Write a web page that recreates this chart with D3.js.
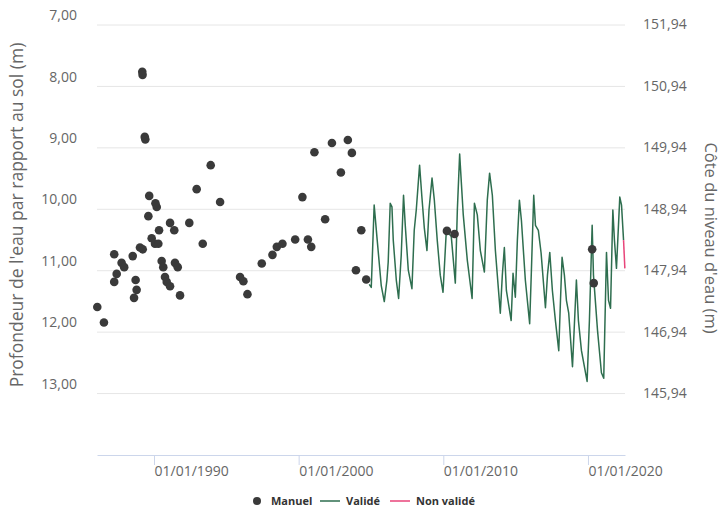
<!DOCTYPE html>
<html>
<head>
<meta charset="utf-8">
<script src="https://cdn.jsdelivr.net/npm/d3@7"></script>
<style>
body { margin: 0; background: #fff; }
svg { font-family: "Open Sans", sans-serif; }
</style>
</head>
<body>
<script>
// manual readings (decimal year, depth in m)
var manualYears = [1986.08, 1986.54, 1987.25, 1987.25, 1987.42, 1987.76, 1987.94, 1988.53, 1988.62, 1988.73,
  1988.80, 1989.03, 1989.22, 1989.19, 1989.21, 1989.36, 1989.40, 1989.67, 1989.61, 1989.84,
  1990.07, 1990.30, 1990.19, 1990.10, 1990.35, 1990.53, 1990.64, 1990.76, 1990.88, 1991.11,
  1991.11, 1991.40, 1991.45, 1991.64, 1991.80, 1992.44, 1992.95, 1993.37, 1993.92, 1994.57,
  1995.95, 1996.18, 1996.46, 1997.45, 1998.19, 1998.49, 1998.88, 1999.76, 2000.64, 2000.87,
  2000.26, 2001.09, 2001.83, 2002.30, 2002.92, 2003.40, 2003.68, 2003.96, 2004.33, 2004.67,
  2010.25, 2010.78, 2020.29, 2020.40];
var manualDepth = [11.60, 11.85, 10.74, 11.19, 11.06, 10.88, 10.95, 10.77, 11.45, 11.16,
  11.32, 10.63, 10.66, 7.77, 7.82, 8.83, 8.87, 9.79, 10.12, 10.48,
  10.57, 10.57, 9.97, 9.91, 10.35, 10.85, 10.95, 11.11, 11.19, 11.26,
  10.23, 10.35, 10.88, 10.95, 11.41, 10.23, 9.68, 10.57, 9.29, 9.89,
  11.11, 11.18, 11.39, 10.89, 10.75, 10.62, 10.57, 10.50, 10.50, 10.62,
  9.81, 9.08, 10.17, 8.93, 9.41, 8.88, 9.09, 11.00, 10.35, 11.15,
  10.36, 10.41, 10.66, 11.21];

// validated continuous record
var validYears = [2004.88, 2005.02, 2005.22, 2005.43, 2005.71, 2005.92, 2006.10, 2006.19, 2006.33, 2006.45,
  2006.54, 2006.75, 2006.91, 2007.09, 2007.25, 2007.37, 2007.58, 2007.83, 2007.99, 2008.13,
  2008.36, 2008.51, 2008.69, 2008.87, 2009.01, 2009.22, 2009.38, 2009.58, 2009.79, 2009.98,
  2010.21, 2010.55, 2010.83, 2010.97, 2011.13, 2011.38, 2011.66, 2011.99, 2012.15, 2012.35,
  2012.56, 2012.84, 2013.04, 2013.20, 2013.39, 2013.60, 2013.94, 2014.08, 2014.22, 2014.36,
  2014.69, 2014.82, 2014.98, 2015.12, 2015.26, 2015.40, 2015.67, 2015.97, 2016.09, 2016.25,
  2016.37, 2016.57, 2016.76, 2017.06, 2017.20, 2017.36, 2017.54, 2017.75, 2017.98, 2018.10,
  2018.21, 2018.37, 2018.51, 2018.67, 2018.93, 2019.20, 2019.34, 2019.55, 2019.94, 2020.10,
  2020.29, 2020.38, 2020.66, 2020.93, 2021.09, 2021.28, 2021.42, 2021.56, 2021.72, 2021.83,
  2021.97, 2022.20, 2022.32, 2022.46];
var validDepth = [11.23, 11.28, 9.94, 10.51, 11.25, 11.51, 11.16, 10.87, 9.91, 9.97,
  10.51, 11.16, 11.46, 10.76, 9.78, 10.27, 11.00, 11.30, 10.35, 10.02,
  9.29, 9.78, 10.32, 10.68, 10.02, 9.50, 9.86, 10.51, 11.08, 11.36,
  10.35, 10.45, 11.21, 10.02, 9.11, 10.10, 10.84, 11.46, 9.91, 10.10,
  10.68, 11.03, 9.86, 9.42, 9.78, 10.68, 11.70, 11.08, 10.63, 11.33,
  11.82, 11.05, 11.44, 10.51, 9.86, 10.19, 11.16, 11.87, 11.00, 9.78,
  10.27, 10.35, 10.72, 11.61, 11.08, 10.71, 11.33, 11.82, 12.31, 11.49,
  10.79, 11.08, 11.49, 11.70, 12.57, 11.16, 11.82, 12.31, 12.81, 11.82,
  10.27, 11.08, 11.98, 12.67, 12.76, 10.71, 11.49, 11.62, 10.02, 10.51,
  10.97, 9.81, 9.94, 10.51];

// not yet validated tail
var pendingYears = [2022.46, 2022.55];
var pendingDepth = [10.51, 10.97];

var depthTicks = [7, 8, 9, 10, 11, 12, 13];
var levelTicks = ["151,94", "150,94", "149,94", "148,94", "147,94", "146,94", "145,94"];
var dateTicks = [1990, 2000, 2010, 2020];
var dateLabels = ["01/01/1990", "01/01/2000", "01/01/2010", "01/01/2020"];

var width = 723, height = 512;
var plotLeft = 97, plotRight = 625, plotTop = 24.5, plotBottom = 454.5;

var svg = d3.select("body").append("svg")
    .attr("width", width)
    .attr("height", height);

var x = d3.scaleLinear().domain([1986.06, 2022.56]).range([plotLeft, plotRight]);
var y = d3.scaleLinear().domain([7, 14]).range([plotTop, plotBottom]);

// grid lines
svg.append("g")
    .attr("transform", "translate(" + plotLeft + ",0)")
    .call(d3.axisLeft(y).tickValues(depthTicks).tickSize(-(plotRight - plotLeft)).tickFormat(""))
    .call(function(g) {
      g.select(".domain").remove();
      g.selectAll("line").attr("stroke", "#e6e6e6");
    });

// left labels
svg.append("g")
    .attr("transform", "translate(77,0)")
    .call(d3.axisLeft(y).tickValues(depthTicks).tickSize(0)
      .tickFormat(function(d) { return d3.format(".2f")(d).replace(".", ","); }))
    .call(function(g) {
      g.select(".domain").remove();
      g.selectAll("text").attr("x", 0).attr("dy", "-0.35em")
        .attr("fill", "#666").style("font-size", "14px").style("font-family", "Open Sans");
    });

// right labels
svg.append("g")
    .attr("transform", "translate(643,0)")
    .call(d3.axisRight(y).tickValues(depthTicks).tickSize(0)
      .tickFormat(function(d, i) { return levelTicks[i]; }))
    .call(function(g) {
      g.select(".domain").remove();
      g.selectAll("text").attr("x", 0)
        .attr("fill", "#666").style("font-size", "14px").style("font-family", "Open Sans");
    });

// x axis
svg.append("g")
    .attr("transform", "translate(0," + (plotBottom + 0.5) + ")")
    .call(d3.axisBottom(x).tickValues(dateTicks).tickSize(10).tickSizeOuter(0)
      .tickFormat(function(d, i) { return dateLabels[i]; }))
    .call(function(g) {
      g.select(".domain").attr("stroke", "#ccd6eb");
      g.selectAll(".tick line").attr("stroke", "#ccd6eb");
      g.selectAll("text").attr("text-anchor", "start").attr("y", 8).attr("dy", "0.9em")
        .attr("fill", "#666").style("font-size", "14px").style("font-family", "Open Sans");
    });

// axis titles
svg.append("text")
    .attr("transform", "translate(23,215) rotate(-90)")
    .attr("text-anchor", "middle")
    .attr("fill", "#666")
    .style("font-size", "17.5px")
    .text("Profondeur de l'eau par rapport au sol (m)");

svg.append("text")
    .attr("transform", "translate(705,238) rotate(90)")
    .attr("text-anchor", "middle")
    .attr("fill", "#666")
    .style("font-size", "16.5px")
    .text("Côte du niveau d'eau (m)");

var line = d3.line()
    .x(function(d) { return x(d[0]); })
    .y(function(d) { return y(d[1]); });

svg.append("path")
    .datum(d3.zip(validYears, validDepth))
    .attr("fill", "none")
    .attr("stroke", "#2e6e4f")
    .attr("stroke-width", 1.5)
    .attr("stroke-linejoin", "round")
    .attr("d", line);

svg.append("path")
    .datum(d3.zip(pendingYears, pendingDepth))
    .attr("fill", "none")
    .attr("stroke", "#e8457a")
    .attr("stroke-width", 1.5)
    .attr("d", line);

svg.append("g")
  .selectAll("circle")
  .data(d3.zip(manualYears, manualDepth))
  .enter().append("circle")
    .attr("cx", function(d) { return x(d[0]); })
    .attr("cy", function(d) { return y(d[1]); })
    .attr("r", 4.3)
    .attr("fill", "#3a3a3a");

// legend
var legend = svg.append("g")
    .attr("transform", "translate(0,501)")
    .style("font-size", "11px")
    .style("font-weight", "bold")
    .attr("fill", "#333");

legend.append("circle").attr("cx", 257).attr("cy", 0).attr("r", 4).attr("fill", "#3a3a3a");
legend.append("text").attr("x", 271).attr("dy", "0.35em").text("Manuel");
legend.append("line").attr("x1", 320).attr("x2", 340).attr("stroke", "#2e6e4f").attr("stroke-width", 1.5);
legend.append("text").attr("x", 346).attr("dy", "0.35em").text("Validé");
legend.append("line").attr("x1", 390).attr("x2", 410).attr("stroke", "#e8457a").attr("stroke-width", 1.5);
legend.append("text").attr("x", 416).attr("dy", "0.35em").text("Non validé");
</script>
</body>
</html>
